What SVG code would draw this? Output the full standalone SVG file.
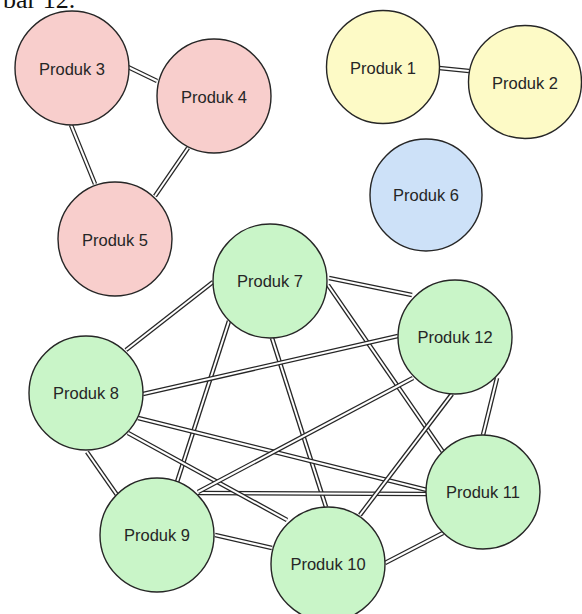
<svg xmlns="http://www.w3.org/2000/svg" width="582" height="614" viewBox="0 0 582 614">
<style>
.o{stroke:#262626;stroke-width:4.6;fill:none}
.i{stroke:#ffffff;stroke-width:2;fill:none}
.n circle{stroke:#262626;stroke-width:1.4}
.n text{font-family:"Liberation Sans",Arial,sans-serif;font-size:16.5px;fill:#262626;text-anchor:middle}
.pink circle{fill:#f8cecc}
.yel circle{fill:#fdfac6}
.blue circle{fill:#cde1f8}
.green circle{fill:#c9f5c8}
</style>
<rect width="582" height="614" fill="#ffffff"/>
<text x="3" y="8" font-family="Liberation Serif,Times New Roman,serif" font-size="26" fill="#111">bar 12.</text>
<g id="connectors">
<g><line class="o" x1="128" y1="67" x2="157" y2="81"/><line class="i" x1="128" y1="67" x2="157" y2="81"/></g>
<g><line class="o" x1="71" y1="125" x2="95" y2="184"/><line class="i" x1="71" y1="125" x2="95" y2="184"/></g>
<g><line class="o" x1="188" y1="148" x2="155" y2="196"/><line class="i" x1="188" y1="148" x2="155" y2="196"/></g>
<g><line class="o" x1="439" y1="68" x2="469" y2="71"/><line class="i" x1="439" y1="68" x2="469" y2="71"/></g>
<g><line class="o" x1="213" y1="282" x2="126" y2="350"/><line class="i" x1="213" y1="282" x2="126" y2="350"/></g>
<g><line class="o" x1="229" y1="321" x2="177" y2="482"/><line class="i" x1="229" y1="321" x2="177" y2="482"/></g>
<g><line class="o" x1="272" y1="338" x2="326" y2="507"/><line class="i" x1="272" y1="338" x2="326" y2="507"/></g>
<g><line class="o" x1="328" y1="285" x2="443" y2="452"/><line class="i" x1="328" y1="285" x2="443" y2="452"/></g>
<g><line class="o" x1="329" y1="278" x2="412" y2="295"/><line class="i" x1="329" y1="278" x2="412" y2="295"/></g>
<g><line class="o" x1="143" y1="394" x2="398" y2="336"/><line class="i" x1="143" y1="394" x2="398" y2="336"/></g>
<g><line class="o" x1="138" y1="418" x2="427" y2="490"/><line class="i" x1="138" y1="418" x2="427" y2="490"/></g>
<g><line class="o" x1="198" y1="493" x2="427" y2="494"/><line class="i" x1="198" y1="493" x2="427" y2="494"/></g>
<g><line class="o" x1="128" y1="433" x2="287" y2="520"/><line class="i" x1="128" y1="433" x2="287" y2="520"/></g>
<g><line class="o" x1="87" y1="452" x2="117" y2="495"/><line class="i" x1="87" y1="452" x2="117" y2="495"/></g>
<g><line class="o" x1="198" y1="492" x2="413" y2="378"/><line class="i" x1="198" y1="492" x2="413" y2="378"/></g>
<g><line class="o" x1="215" y1="535" x2="272" y2="548"/><line class="i" x1="215" y1="535" x2="272" y2="548"/></g>
<g><line class="o" x1="360" y1="515" x2="452" y2="394"/><line class="i" x1="360" y1="515" x2="452" y2="394"/></g>
<g><line class="o" x1="385" y1="563" x2="443" y2="533"/><line class="i" x1="385" y1="563" x2="443" y2="533"/></g>
<g><line class="o" x1="497" y1="378" x2="483" y2="435"/><line class="i" x1="497" y1="378" x2="483" y2="435"/></g>
</g>
<g id="produk3" class="n pink"><circle cx="72" cy="68" r="57"/><text x="72" y="75">Produk 3</text></g>
<g id="produk4" class="n pink"><circle cx="214" cy="96" r="57"/><text x="214" y="103">Produk 4</text></g>
<g id="produk5" class="n pink"><circle cx="115" cy="239" r="57"/><text x="115" y="246">Produk 5</text></g>
<g id="produk1" class="n yel"><circle cx="383" cy="67" r="56.5"/><text x="383" y="74">Produk 1</text></g>
<g id="produk2" class="n yel"><circle cx="525" cy="82" r="56.5"/><text x="525" y="89">Produk 2</text></g>
<g id="produk6" class="n blue"><circle cx="426" cy="195" r="56"/><text x="426" y="201">Produk 6</text></g>
<g id="produk7" class="n green"><circle cx="270" cy="281" r="57"/><text x="270" y="287">Produk 7</text></g>
<g id="produk12" class="n green"><circle cx="455" cy="337" r="57"/><text x="455" y="343">Produk 12</text></g>
<g id="produk8" class="n green"><circle cx="86" cy="393" r="57"/><text x="86" y="399">Produk 8</text></g>
<g id="produk11" class="n green"><circle cx="483" cy="492" r="57"/><text x="483" y="498">Produk 11</text></g>
<g id="produk9" class="n green"><circle cx="157" cy="535" r="57"/><text x="157" y="541">Produk 9</text></g>
<g id="produk10" class="n green"><circle cx="328" cy="564" r="57"/><text x="328" y="570">Produk 10</text></g>
</svg>
